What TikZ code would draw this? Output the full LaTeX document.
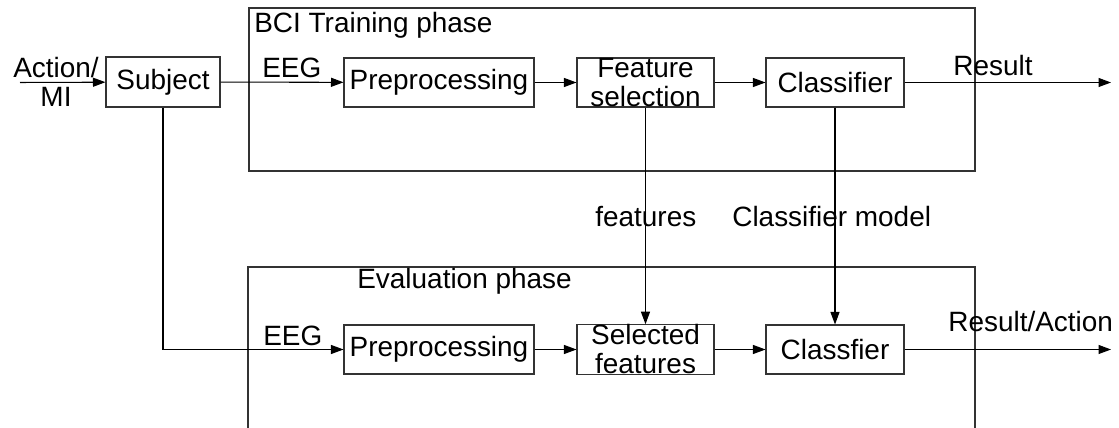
\documentclass[tikz,border=0pt]{standalone}
\usepackage{fontspec}
\setmainfont{Liberation Sans}
\usepackage{tikz}
\usetikzlibrary{arrows.meta}

\tikzset{
	blk/.style={draw=black!80, line width=0.6pt, minimum height=0.98cm, inner sep=0pt, font=\fontsize{15.9}{16.5}\selectfont, align=center},
	lbl/.style={anchor=base west, inner sep=0pt, font=\fontsize{15.9}{16.5}\selectfont},
	conn/.style={line width=0.6pt, -{Triangle[length=2.5mm,width=1.8mm]}},
	phase/.style={draw=black!80, line width=0.6pt}
}

\begin{document}
\begin{tikzpicture}[x=0.02cm,y=-0.02cm]
	\useasboundingbox (0,0) rectangle (1119,428);
	% Draw phase frames
	\draw[phase] (249,8) rectangle (975,171);
	\draw[phase] (248,440) -- (248,267) -- (975,267) -- (975,440);
	\node[lbl] (train) at (254,33) {BCI Training phase};
	\node[lbl] (eval) at (357,289) {Evaluation phase};
	% Draw blocks
	\node[blk, minimum width=2.28cm, minimum height=1cm] (subj) at (163,82) {Subject};
	\node[blk, minimum width=3.8cm] (pre1) at (439,82.5) {Preprocessing};
	\node[blk, minimum width=2.74cm] (feat) at (645.5,82.5) {Feature\\selection};
	\node[blk, minimum width=2.76cm] (clf1) at (835,82.5) {Classifier};
	\node[blk, minimum width=3.8cm] (pre2) at (439,349.5) {Preprocessing};
	\node[blk, minimum width=2.74cm] (sel) at (645.5,349.5) {Selected\\features};
	\node[blk, minimum width=2.76cm] (clf2) at (835,349.5) {Classfier};
	% Free ends
	\coordinate (in) at (20,82.5);
	\coordinate (out1) at (1111,82.5);
	\coordinate (out2) at (1111,349.5);
	\coordinate (bend) at (163,349.5);
	% Draw connectors
	\node[font=\fontsize{15.9}{16.5}\selectfont, align=center, inner sep=0pt] (act) at (56,82) {Action/\\MI};
	\draw[conn] (in) -- (subj);
	\draw[conn] (subj) -- (pre1);
	\draw[conn] (pre1) -- (feat);
	\draw[conn] (feat) -- (clf1);
	\draw[conn] (clf1) -- (out1);
	\draw[conn] (subj) -- (bend) -- (pre2);
	\draw[conn] (pre2) -- (sel);
	\draw[conn] (sel) -- (clf2);
	\draw[conn] (clf2) -- (out2);
	\draw[conn] (feat) -- (sel);
	\draw[conn] (clf1) -- (clf2);
	% Labels
	\node[lbl] (eeg1) at (262,78) {EEG};
	\node[lbl] (eeg2) at (263,346) {EEG};
	\node[lbl] (res1) at (953,76) {Result};
	\node[lbl] (res2) at (948,332) {Result/Action};
	\node[lbl] (fts) at (595,227) {features};
	\node[lbl] (mdl) at (732,227) {Classifier model};
\end{tikzpicture}
\end{document}
